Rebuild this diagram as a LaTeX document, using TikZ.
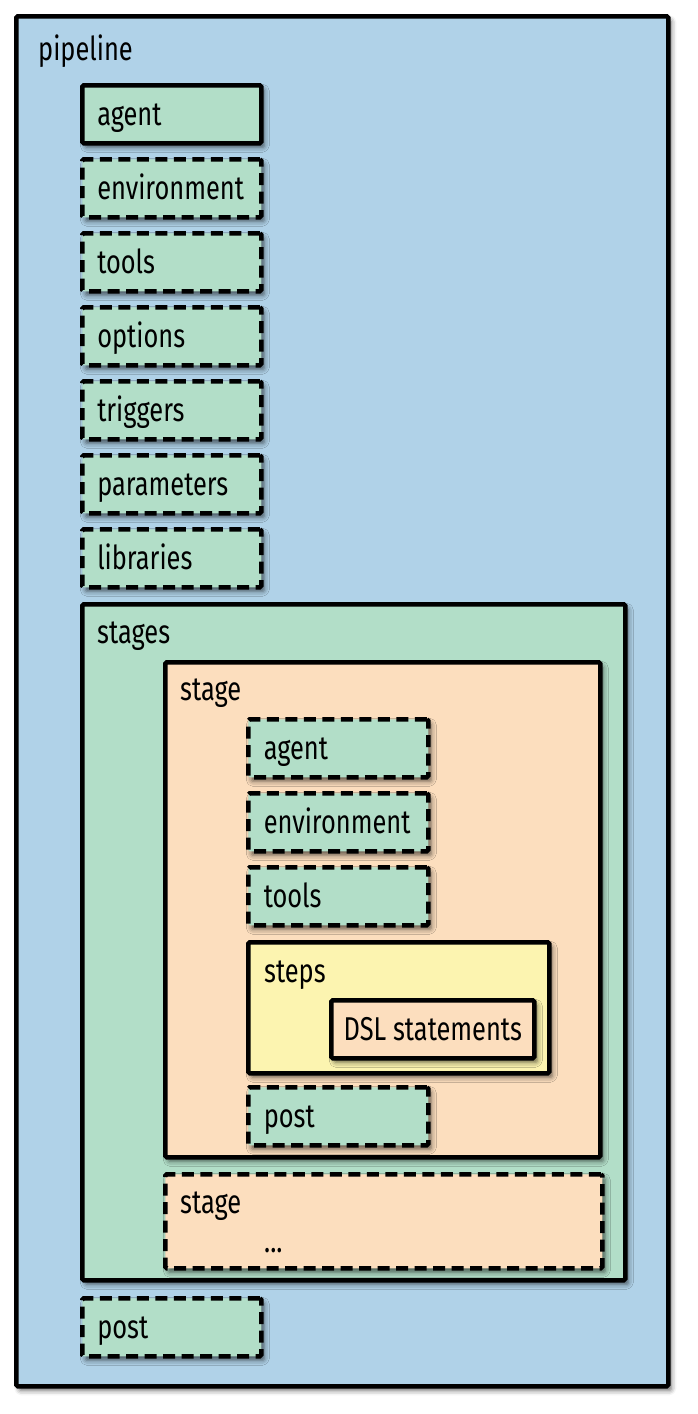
\documentclass[tikz,border=0pt]{standalone}
\usepackage{fontspec}
\setmainfont{Fira Sans}[FakeStretch=0.77]
\usetikzlibrary{shadows.blur}
\definecolor{pipeblue}{RGB}{176,210,232}
\definecolor{boxgreen}{RGB}{178,222,200}
\definecolor{boxpeach}{RGB}{252,222,190}
\definecolor{boxyellow}{RGB}{252,244,176}
\tikzset{
  frame/.style={draw=black, line width=4.5pt, rounded corners=1.5pt, anchor=north west, inner sep=0pt,
    blur shadow={shadow xshift=3pt, shadow yshift=-4pt, shadow blur radius=5pt, shadow opacity=60}},
  solidbox/.style={frame},
  dashbox/.style={frame, dash pattern=on 12pt off 6.5pt},
  txt/.style={text height=25pt, text depth=3pt, font=\fontsize{33}{38}\selectfont},
  itembox/.style={txt, minimum width=179pt, minimum height=58pt, text width=149pt, align=left,
    inner xsep=15pt},
  lbl/.style={anchor=base west, inner sep=0pt, font=\fontsize{33}{38}\selectfont},
}
\begin{document}
\begin{tikzpicture}[x=1pt,y=-1pt]
\useasboundingbox (0,0) rectangle (698,1414);
% pipeline
\node[solidbox, fill=pipeblue, minimum width=652pt, minimum height=1370pt] (pipeline) at (14,14) {};
\node[lbl] (pipelinelbl) at (38,60) {pipeline};
% top-level items
\node[solidbox, itembox, fill=boxgreen] (agent) at (80,83) {agent};
\node[dashbox, itembox, fill=boxgreen] (environment) at (80,157) {environment};
\node[dashbox, itembox, fill=boxgreen] (tools) at (80,231) {tools};
\node[dashbox, itembox, fill=boxgreen] (options) at (80,305) {options};
\node[dashbox, itembox, fill=boxgreen] (triggers) at (80,379) {triggers};
\node[dashbox, itembox, fill=boxgreen] (parameters) at (80,453) {parameters};
\node[dashbox, itembox, fill=boxgreen] (libraries) at (80,527) {libraries};
% stages
\node[solidbox, fill=boxgreen, minimum width=543pt, minimum height=676pt] (stages) at (80,602) {};
\node[lbl] (stageslbl) at (97,643) {stages};
% stage
\node[solidbox, fill=boxpeach, minimum width=435pt, minimum height=495pt] (stage) at (163,660) {};
\node[lbl] (stagelbl) at (180,700) {stage};
\node[dashbox, itembox, fill=boxgreen, minimum width=180pt] (sagent) at (246,717) {agent};
\node[dashbox, itembox, fill=boxgreen, minimum width=180pt] (senvironment) at (246,791) {environment};
\node[dashbox, itembox, fill=boxgreen, minimum width=180pt] (stools) at (246,865) {tools};
% steps
\node[solidbox, fill=boxyellow, minimum width=301pt, minimum height=131pt] (steps) at (246,940) {};
\node[lbl] (stepslbl) at (264,982) {steps};
\node[solidbox, txt, fill=boxpeach, minimum width=203pt, minimum height=58pt] (dsl) at (329,998) {DSL statements};
\node[dashbox, itembox, fill=boxgreen, minimum width=180pt] (spost) at (246,1085) {post};
% second stage
\node[dashbox, fill=boxpeach, minimum width=437pt, minimum height=94pt] (stage2) at (163,1172) {};
\node[lbl] (stage2lbl) at (180,1213) {stage};
\node[lbl] (dots) at (264,1252) {...};
% post
\node[dashbox, itembox, fill=boxgreen] (post) at (80,1296) {post};
\end{tikzpicture}
\end{document}
